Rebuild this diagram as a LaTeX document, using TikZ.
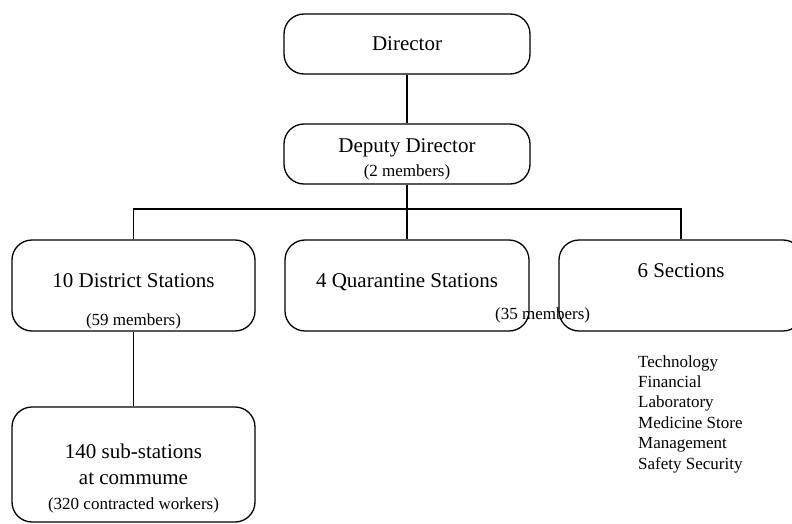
\documentclass[tikz,border=0pt]{standalone}
\usepackage{fontspec}
\setmainfont{Liberation Serif}
\begin{document}
\begin{tikzpicture}[x=1pt,y=-1pt,
  box/.style={draw=black, line width=1.3pt, rounded corners=20pt, inner sep=0pt},
  big/.style={inner sep=0pt, anchor=base, font=\fontsize{21}{25}\selectfont},
  small/.style={inner sep=0pt, anchor=base, font=\fontsize{17}{20.4}\selectfont},
  item/.style={small, anchor=base west},
  conn/.style={draw=black, line width=1.3pt}]
\useasboundingbox (0,0) rectangle (792,524);
% boxes
\node[box, minimum width=246pt, minimum height=60pt] (dir) at (407,44) {};
\node[box, minimum width=246pt, minimum height=60pt] (dep) at (407,154) {};
\node[box, minimum width=243pt, minimum height=91pt] (dis) at (133.5,285.5) {};
\node[box, minimum width=244pt, minimum height=91pt] (qua) at (407,285.5) {};
\node[box, minimum width=244pt, minimum height=91pt] (sec) at (681,285.5) {};
\node[box, minimum width=243pt, minimum height=115pt] (sub) at (133.5,464.5) {};
% texts
\node[big] (tdir) at (407,51) {Director};
\node[big] (tdep) at (407,153) {Deputy Director};
\node[small] (mdep) at (407,176) {(2 members)};
\node[big] (tdis) at (133.5,287) {10 District Stations};
\node[small] (mdis) at (133.5,325) {(59 members)};
\node[big] (tqua) at (407,287) {4 Quarantine Stations};
\node[item] (mqua) at (495,319) {(35 members)};
\node[big] (tsec) at (681,277) {6 Sections};
\node[item] (l1) at (638,367) {Technology};
\node[item] (l2) at (638,387.4) {Financial};
\node[item] (l3) at (638,407.8) {Laboratory};
\node[item] (l4) at (638,428.2) {Medicine Store};
\node[item] (l5) at (638,448.6) {Management};
\node[item] (l6) at (638,469) {Safety Security};
\node[big] (tsub1) at (133.5,458) {140 sub-stations};
\node[big] (tsub2) at (133.5,484) {at commume};
\node[small] (msub) at (133.5,509) {(320 contracted workers)};
% connectors
\coordinate (bus) at (407,209);
\draw[conn] (dir.south) -- (dep.north);
\draw[conn] (dep.south) -- (bus);
\draw[conn] (dis.north) |- (bus) -| (sec.north);
\draw[conn] (bus) -- (qua.north);
\draw[conn] (dis.south) -- (sub.north);
\end{tikzpicture}
\end{document}
